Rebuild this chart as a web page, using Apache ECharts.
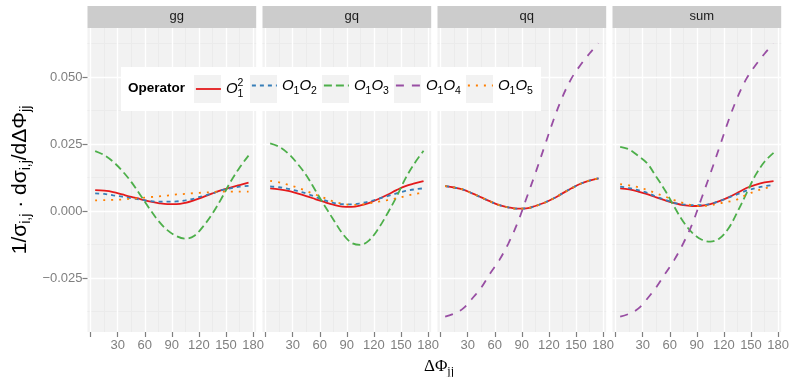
<!DOCTYPE html>
<html><head><meta charset="utf-8">
<script src="https://cdn.jsdelivr.net/npm/echarts@6/dist/echarts.min.js"></script>
<style>html,body{margin:0;padding:0;background:#fff}#c{width:792px;height:377px}</style>
</head><body><div id="c"></div>
<script>
// ---------- data ----------
const panels = ['gg', 'gq', 'qq', 'sum'];
const operators = ['O1^2', 'O1O2', 'O1O3', 'O1O4', 'O1O5'];
const dphi = [5, 15, 25, 35, 45, 55, 65, 75, 85, 95, 105, 115, 125, 135, 145, 155, 165, 175];
const xTicks = [0, 30, 60, 90, 120, 150, 180];
const xTickLabels = [30, 60, 90, 120, 150, 180];
const yTicks = [-0.025, 0, 0.025, 0.05];

const gg_O1sq = [0.0078,0.0076,0.0071,0.0062,0.0053,0.0045,0.0036,0.0030,0.0026,0.0026,0.0031,0.0041,0.0053,0.0066,0.0078,0.0088,0.0097,0.0106];
const gg_O1O2 = [0.0066,0.0064,0.0059,0.0054,0.0048,0.0043,0.0038,0.0035,0.0035,0.0036,0.0040,0.0047,0.0057,0.0066,0.0078,0.0085,0.0091,0.0094];
const gg_O1O3 = [0.0224,0.0209,0.0184,0.0150,0.0109,0.0060,0.0010,-0.0036,-0.0071,-0.0093,-0.0103,-0.0092,-0.0056,-0.0009,0.0047,0.0109,0.0162,0.0207];
const gg_O1O4 = [];
const gg_O1O5 = [0.0040,0.0041,0.0042,0.0043,0.0046,0.0048,0.0052,0.0055,0.0058,0.0062,0.0064,0.0067,0.0069,0.0071,0.0073,0.0073,0.0073,0.0073];

const gq_O1sq = [0.0085,0.0081,0.0075,0.0066,0.0056,0.0045,0.0034,0.0024,0.0017,0.0016,0.0021,0.0031,0.0045,0.0061,0.0078,0.0093,0.0103,0.0112];
const gq_O1O2 = [0.0092,0.0089,0.0083,0.0075,0.0066,0.0053,0.0041,0.0031,0.0026,0.0025,0.0029,0.0036,0.0046,0.0056,0.0066,0.0075,0.0081,0.0085];
const gq_O1O3 = [0.0253,0.0240,0.0215,0.0178,0.0134,0.0078,0.0022,-0.0031,-0.0083,-0.0118,-0.0126,-0.0108,-0.0065,-0.0009,0.0053,0.0122,0.0178,0.0225];
const gq_O1O4 = [];
const gq_O1O5 = [0.0113,0.0107,0.0098,0.0088,0.0075,0.0062,0.0049,0.0036,0.0028,0.0023,0.0024,0.0029,0.0035,0.0041,0.0048,0.0056,0.0064,0.0068];

const qq_O1sq = [0.0093,0.0088,0.0080,0.0066,0.0051,0.0036,0.0022,0.0014,0.0009,0.0010,0.0019,0.0031,0.0047,0.0066,0.0085,0.0102,0.0114,0.0122];
const qq_O1O2 = [0.0093,0.0088,0.0080,0.0066,0.0051,0.0036,0.0022,0.0014,0.0009,0.0010,0.0019,0.0031,0.0047,0.0066,0.0085,0.0102,0.0114,0.0122];
const qq_O1O3 = [];
const qq_O1O4 = [-0.0394,-0.0382,-0.0363,-0.0326,-0.0285,-0.0232,-0.0183,-0.0121,-0.0046,0.0047,0.0141,0.0240,0.0339,0.0426,0.0495,0.0545,0.0588,0.0626];
const qq_O1O5 = [0.0093,0.0088,0.0080,0.0066,0.0051,0.0036,0.0022,0.0014,0.0009,0.0010,0.0019,0.0031,0.0047,0.0066,0.0085,0.0102,0.0114,0.0122];

const sum_O1sq = [0.0085,0.0081,0.0073,0.0063,0.0051,0.0040,0.0030,0.0022,0.0019,0.0020,0.0026,0.0037,0.0051,0.0068,0.0086,0.0098,0.0107,0.0112];
const sum_O1O2 = [0.0091,0.0086,0.0078,0.0068,0.0054,0.0042,0.0031,0.0025,0.0022,0.0022,0.0027,0.0037,0.0050,0.0063,0.0076,0.0086,0.0093,0.0097];
const sum_O1O3 = [0.0240,0.0230,0.0206,0.0178,0.0128,0.0076,0.0016,-0.0040,-0.0081,-0.0106,-0.0114,-0.0102,-0.0065,-0.0003,0.0066,0.0134,0.0184,0.0217];
const sum_O1O4 = [-0.0394,-0.0383,-0.0364,-0.0327,-0.0284,-0.0233,-0.0182,-0.0120,-0.0047,0.0046,0.0140,0.0238,0.0337,0.0424,0.0494,0.0544,0.0587,0.0625];
const sum_O1O5 = [0.0101,0.0096,0.0089,0.0079,0.0066,0.0054,0.0041,0.0030,0.0022,0.0019,0.0021,0.0029,0.0035,0.0044,0.0061,0.0074,0.0085,0.0091];

// ---------- build ----------
const valuesByPanel = {
  gg: [gg_O1sq, gg_O1O2, gg_O1O3, gg_O1O4, gg_O1O5],
  gq: [gq_O1sq, gq_O1O2, gq_O1O3, gq_O1O4, gq_O1O5],
  qq: [qq_O1sq, qq_O1O2, qq_O1O3, qq_O1O4, qq_O1O5],
  sum: [sum_O1sq, sum_O1O2, sum_O1O3, sum_O1O4, sum_O1O5]
};
const colors = ['#E41A1C', '#377EB8', '#4DAF4A', '#984EA3', '#FF7F00'];
const dashes = ['solid', [4, 4], [8, 4], [8, 8], [2, 6]];

const X0 = 87.5, PW = 168.7, STEP = 175, TOP = 28, PH = 304;
const XMIN = -3.5, XMAX = 183.5, YMIN = -0.0451, YMAX = 0.0683;
const MINOR = '#EBEBEB', BG = '#F2F2F2', TICKC = '#7F7F7F';
const minorX = [15, 45, 75, 105, 135, 165];
const minorY = [-0.0375, -0.0125, 0.0125, 0.0375, 0.0625];

const grids = [], xAxes = [], yAxes = [], series = [], titles = [], graphics = [];
panels.forEach((p, i) => {
  const left = X0 + STEP * i;
  grids.push({left: left, top: TOP, width: PW, height: PH, show: true, backgroundColor: BG, borderWidth: 0, containLabel: false});
  // minor x
  xAxes.push({gridIndex: i, type: 'value', position: 'top', min: XMIN, max: XMAX,
    axisLine: {show: false, onZero: false}, axisTick: {show: false, customValues: minorX}, axisLabel: {show: false, customValues: minorX},
    splitLine: {show: true, lineStyle: {color: MINOR, width: 1}}, z: 0});
  // major x
  xAxes.push({gridIndex: i, type: 'value', position: 'bottom', min: XMIN, max: XMAX,
    axisLine: {show: false, onZero: false},
    axisTick: {show: true, customValues: xTicks, length: 5, lineStyle: {color: TICKC, width: 1.2}},
    axisLabel: {show: true, customValues: xTickLabels, color: TICKC, fontSize: 13, margin: 7, fontFamily: 'Liberation Sans'},
    splitLine: {show: true, lineStyle: {color: '#FFFFFF', width: 1.4}}, z: 1});
  // minor y
  yAxes.push({gridIndex: i, type: 'value', position: 'right', min: YMIN, max: YMAX,
    axisLine: {show: false, onZero: false}, axisTick: {show: false, customValues: minorY}, axisLabel: {show: false, customValues: minorY},
    splitLine: {show: true, lineStyle: {color: MINOR, width: 1}}, z: 0});
  // major y
  const ya = {gridIndex: i, type: 'value', position: 'left', min: YMIN, max: YMAX,
    axisLine: {show: false, onZero: false},
    axisTick: {show: i === 0, customValues: yTicks, length: 5, lineStyle: {color: TICKC, width: 1.2}},
    axisLabel: {show: i === 0, customValues: yTicks, color: TICKC, fontSize: 13, margin: 5, fontFamily: 'Liberation Sans',
      formatter: v => (v < 0 ? '\u2212' : '') + Math.abs(v).toFixed(3)},
    splitLine: {show: true, lineStyle: {color: '#FFFFFF', width: 1.4}}, z: 1};
  if (i === 0) {
    ya.name = '{n|1/\u03c3}{s|i,j}{n| \u00b7 d\u03c3}{s|i,j}{n|/d\u0394\u03a6}{s|jj}';
    ya.nameLocation = 'middle';
    ya.nameRotate = 90;
    ya.nameGap = 54;
    ya.nameTextStyle = {rich: {
      n: {fontSize: 21, lineHeight: 26, color: '#000', fontFamily: 'Liberation Sans', verticalAlign: 'middle'},
      s: {fontSize: 14, lineHeight: 13, color: '#000', fontFamily: 'Liberation Sans', verticalAlign: 'bottom'}
    }};
  }
  yAxes.push(ya);

  // strip
  graphics.push({type: 'rect', left: left, top: 6, shape: {width: PW, height: 22}, style: {fill: '#CCCCCC'}, silent: true});
  titles.push({text: p, left: left + PW / 2, top: 5, textAlign: 'center',
    textStyle: {fontSize: 13, fontWeight: 'normal', color: '#1A1A1A', fontFamily: 'Liberation Sans'}});

  valuesByPanel[p].forEach((vals, k) => {
    series.push({
      type: 'line', name: operators[k], xAxisIndex: 2 * i + 1, yAxisIndex: 2 * i + 1,
      data: vals.map((v, j) => [dphi[j], v]),
      symbol: 'none', showSymbol: false, smooth: 0.35, clip: true,
      lineStyle: {color: colors[k], width: 1.8, type: dashes[k], cap: 'butt'},
      itemStyle: {color: colors[k]},
      emphasis: {disabled: true}, z: 2 + k
    });
  });
});

// x title
titles.push({text: '{a|\u0394\u03a6}{b|jj}', left: 434, top: 351, textAlign: 'center',
  textStyle: {fontWeight: 'normal', rich: {
    a: {fontSize: 17, lineHeight: 22, fontWeight: 'normal', color: '#000', fontFamily: 'Liberation Serif', verticalAlign: 'middle'},
    b: {fontSize: 12, lineHeight: 12, fontWeight: 'normal', color: '#000', fontFamily: 'Liberation Serif', verticalAlign: 'bottom'}
  }}});

// legend box
graphics.push({type: 'rect', left: 121, top: 67, shape: {width: 420, height: 44}, style: {fill: '#FFFFFF'}, z: 50, silent: true});
graphics.push({type: 'text', left: 128, top: 81, z: 51, silent: true,
  style: {text: 'Operator', font: 'bold 13.5px "Liberation Sans"', fill: '#000'}});
const keyX = [194, 250, 322, 394, 466];
keyX.forEach(x => graphics.push({type: 'rect', left: x, top: 75, shape: {width: 27, height: 28}, style: {fill: '#F2F2F2'}, z: 51, silent: true}));

const legendLabels = {
  'O1^2': '{o|O}{sb|1}{sp|2}',
  'O1O2': '{o|O}{s|1}{o|O}{s|2}',
  'O1O3': '{o|O}{s|1}{o|O}{s|3}',
  'O1O4': '{o|O}{s|1}{o|O}{s|4}',
  'O1O5': '{o|O}{s|1}{o|O}{s|5}'
};
const legRich = {
  o: {fontSize: 15, lineHeight: 22, fontStyle: 'italic', color: '#000', fontFamily: 'Liberation Sans', verticalAlign: 'middle'},
  s: {fontSize: 10.5, lineHeight: 12, color: '#000', fontFamily: 'Liberation Sans', verticalAlign: 'bottom'},
  sb: {fontSize: 10.5, lineHeight: 12, color: '#000', fontFamily: 'Liberation Sans', verticalAlign: 'bottom', width: 0.01, align: 'left'},
  sp: {fontSize: 10.5, lineHeight: 12, color: '#000', fontFamily: 'Liberation Sans', verticalAlign: 'top'}
};
const legends = operators.map((op, k) => ({
  data: [op], left: keyX[k] + 1, top: 78, padding: 0, itemWidth: 25, itemHeight: 14,
  selectedMode: false, z: 60,
  itemStyle: {color: 'rgba(0,0,0,0)', borderWidth: 0, opacity: 0},
  lineStyle: {width: 1.8},
  formatter: n => legendLabels[n],
  textStyle: {rich: legRich}
}));

const chart = echarts.init(document.getElementById('c'), null, {renderer: 'canvas'});
chart.setOption({
  animation: false,
  backgroundColor: '#FFFFFF',
  title: titles,
  grid: grids,
  xAxis: xAxes,
  yAxis: yAxes,
  legend: legends,
  graphic: graphics,
  series: series
});
</script>
</body></html>
